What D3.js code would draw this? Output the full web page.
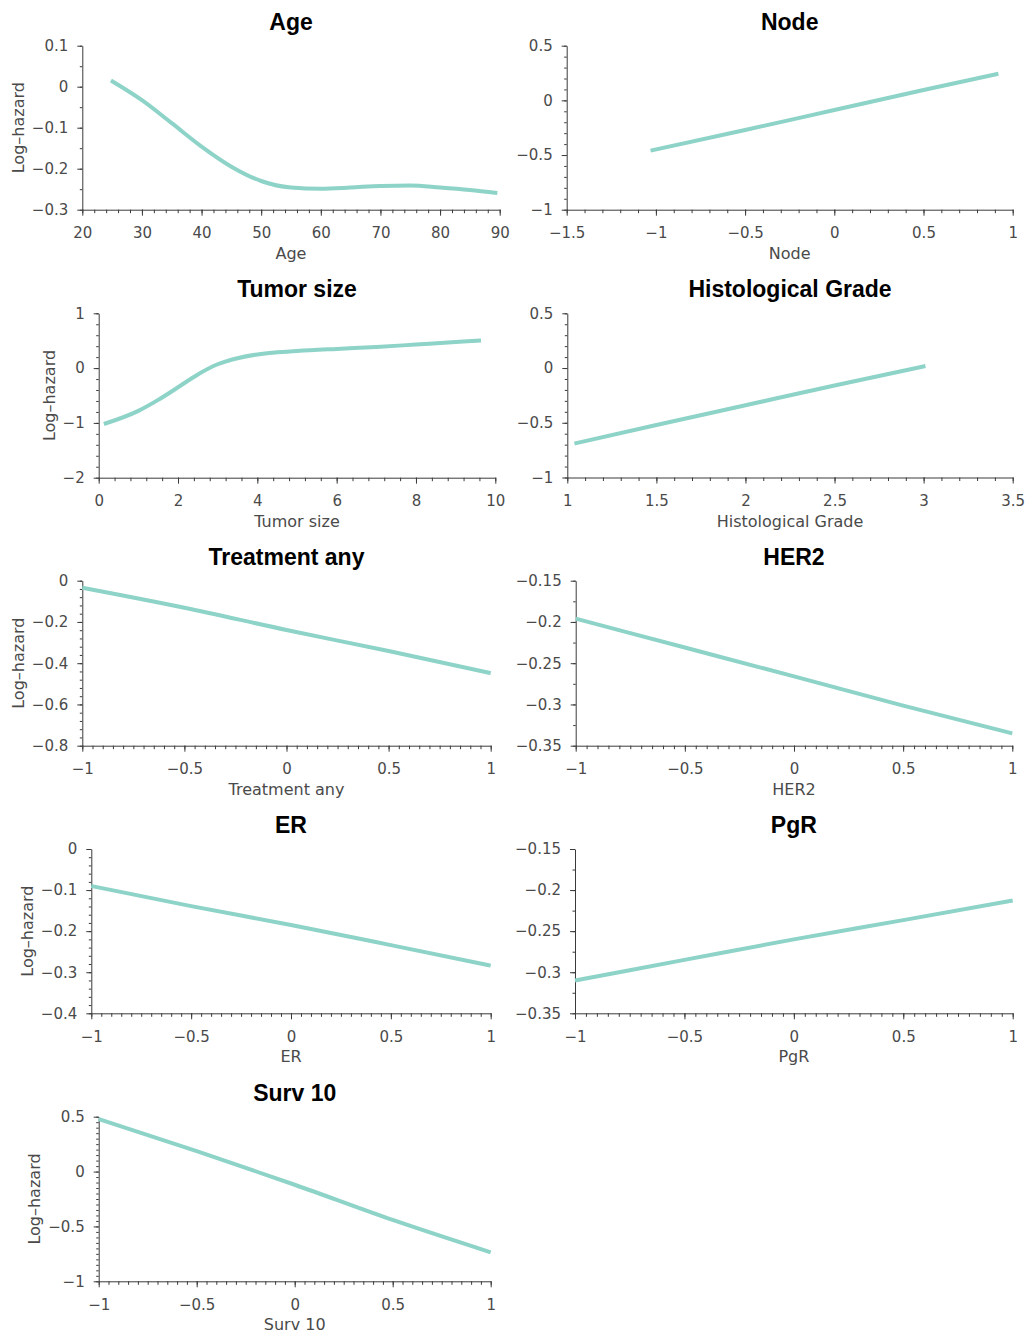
<!DOCTYPE html>
<html>
<head>
<meta charset="utf-8">
<script src="https://cdn.jsdelivr.net/npm/d3@7"></script>
<style>
  html, body { margin: 0; padding: 0; background: #fff; }
  svg { display: block; }
</style>
</head>
<body>
<svg id="chart" width="1029" height="1337"></svg>
<script>
// Estimated partial effects (log-hazard) of each covariate

const ageX = [24.8, 30, 35, 40, 45, 50, 55, 60, 65, 70, 75, 80, 85, 89.6];
const ageY = [0.015, -0.033, -0.089, -0.146, -0.195, -0.230, -0.246, -0.249, -0.246, -0.242, -0.241, -0.246, -0.252, -0.259];

const nodeX = [-1.03, -0.5, 0, 0.5, 0.92];
const nodeY = [-0.46, -0.271, -0.088, 0.095, 0.244];

const tumorX = [0.13, 1, 1.5, 2, 2.5, 3, 3.5, 4, 5, 6, 7, 8, 9, 9.64];
const tumorY = [-1.02, -0.78, -0.58, -0.35, -0.115, 0.07, 0.18, 0.25, 0.31, 0.35, 0.385, 0.43, 0.475, 0.505];

const gradeX = [1.04, 1.5, 2, 2.5, 3.01];
const gradeY = [-0.69, -0.52, -0.34, -0.16, 0.018];

const treatX = [-1, -0.5, 0, 0.5, 1];
const treatY = [-0.034, -0.131, -0.239, -0.341, -0.448];

const her2X = [-1, -0.5, 0, 0.5, 1];
const her2Y = [-0.196, -0.231, -0.266, -0.3015, -0.335];

const erX = [-1, -0.5, 0, 0.5, 1];
const erY = [-0.090, -0.139, -0.185, -0.234, -0.284];

const pgrX = [-1, -0.5, 0, 0.5, 1];
const pgrY = [-0.310, -0.285, -0.260, -0.2366, -0.2126];

const survX = [-1, -0.5, 0, 0.5, 1];
const survY = [0.479, 0.187, -0.12, -0.441, -0.736];

// Tick labels (major) and minor tick spacing for each panel
const ageXTicks = [20, 30, 40, 50, 60, 70, 80, 90];
const ageYTicks = [-0.3, -0.2, -0.1, 0, 0.1];
const nodeXTicks = [-1.5, -1, -0.5, 0, 0.5, 1];
const nodeYTicks = [-1, -0.5, 0, 0.5];
const tumorXTicks = [0, 2, 4, 6, 8, 10];
const tumorYTicks = [-2, -1, 0, 1];
const gradeXTicks = [1, 1.5, 2, 2.5, 3, 3.5];
const gradeYTicks = [-1, -0.5, 0, 0.5];
const unitXTicks = [-1, -0.5, 0, 0.5, 1];
const treatYTicks = [-0.8, -0.6, -0.4, -0.2, 0];
const her2YTicks = [-0.35, -0.3, -0.25, -0.2, -0.15];
const erYTicks = [-0.4, -0.3, -0.2, -0.1, 0];
const pgrYTicks = [-0.35, -0.3, -0.25, -0.2, -0.15];
const survYTicks = [-1, -0.5, 0, 0.5];

const titles = ["Age", "Node", "Tumor size", "Histological Grade", "Treatment any", "HER2", "ER", "PgR", "Surv 10"];
const yLabel = "Log–hazard";

const panels = [
  { title: titles[0], x: ageX,   y: ageY,   xt: ageXTicks,   yt: ageYTicks,   xm: 2,    ym: 0.05,  ylab: true },
  { title: titles[1], x: nodeX,  y: nodeY,  xt: nodeXTicks,  yt: nodeYTicks,  xm: 0.1,  ym: 0.1,   ylab: false },
  { title: titles[2], x: tumorX, y: tumorY, xt: tumorXTicks, yt: tumorYTicks, xm: 0.4,  ym: 0.2,   ylab: true },
  { title: titles[3], x: gradeX, y: gradeY, xt: gradeXTicks, yt: gradeYTicks, xm: 0.1,  ym: 0.1,   ylab: false },
  { title: titles[4], x: treatX, y: treatY, xt: unitXTicks,  yt: treatYTicks, xm: 0.05, ym: 0.04,  ylab: true },
  { title: titles[5], x: her2X,  y: her2Y,  xt: unitXTicks,  yt: her2YTicks,  xm: 0.05, ym: 0.025, ylab: false },
  { title: titles[6], x: erX,    y: erY,    xt: unitXTicks,  yt: erYTicks,    xm: 0.05, ym: 0.02,  ylab: true },
  { title: titles[7], x: pgrX,   y: pgrY,   xt: unitXTicks,  yt: pgrYTicks,   xm: 0.05, ym: 0.025, ylab: false },
  { title: titles[8], x: survX,  y: survY,  xt: unitXTicks,  yt: survYTicks,  xm: 0.05, ym: 0.05,  ylab: true }
];

// Plot-area boxes for the 2-column grid
const boxes = [
  { left: 82.3,  right: 499.7,  top: 45.7,   bottom: 209.7 },
  { left: 566.7, right: 1012.7, top: 45.7,   bottom: 209.7 },
  { left: 98.7,  right: 495.3,  top: 313.3,  bottom: 477.7 },
  { left: 567.3, right: 1012.7, top: 313.3,  bottom: 477.5 },
  { left: 82.3,  right: 490.7,  top: 580.7,  bottom: 745.7 },
  { left: 575.7, right: 1012.3, top: 580.7,  bottom: 745.7 },
  { left: 91.3,  right: 490.7,  top: 849,    bottom: 1013.3 },
  { left: 575,   right: 1012.7, top: 849,    bottom: 1013.3 },
  { left: 98.7,  right: 490.7,  top: 1116.7, bottom: 1281.3 }
];

const LINE_COLOR = "#8dd3c7";
const AXIS_COLOR = "#3a3a3a";
const TEXT_COLOR = "#4a4a4a";
const LABEL_FONT = "'DejaVu Sans', sans-serif";
const TITLE_FONT = "'Liberation Sans', Arial, sans-serif";

const fmt = d3.format("~g");
const svg = d3.select("#chart");

function minorValues(ticks, step) {
  const lo = d3.min(ticks), hi = d3.max(ticks);
  const n = Math.round((hi - lo) / step);
  return d3.range(n + 1).map(i => +(lo + i * step).toFixed(6));
}

panels.forEach((p, i) => {
  const b = boxes[i];
  const xs = d3.scaleLinear().domain(d3.extent(p.xt)).range([b.left, b.right]);
  const ys = d3.scaleLinear().domain(d3.extent(p.yt)).range([b.bottom, b.top]);
  const g = svg.append("g");

  // minor ticks
  g.append("g")
    .attr("transform", `translate(0,${b.bottom})`)
    .call(d3.axisBottom(xs).tickValues(minorValues(p.xt, p.xm)).tickSize(3.5).tickSizeOuter(0).tickFormat(""))
    .call(a => a.select(".domain").remove());
  g.append("g")
    .attr("transform", `translate(${b.left},0)`)
    .call(d3.axisLeft(ys).tickValues(minorValues(p.yt, p.ym)).tickSize(2.5).tickSizeOuter(0).tickFormat(""))
    .call(a => a.select(".domain").remove());

  // major axes
  const xa = g.append("g")
    .attr("transform", `translate(0,${b.bottom})`)
    .call(d3.axisBottom(xs).tickValues(p.xt).tickSize(6).tickSizeOuter(0).tickPadding(12).tickFormat(fmt));
  const ya = g.append("g")
    .attr("transform", `translate(${b.left},0)`)
    .call(d3.axisLeft(ys).tickValues(p.yt).tickSize(5).tickSizeOuter(0).tickPadding(9).tickFormat(fmt));

  g.selectAll(".tick line").attr("stroke", AXIS_COLOR);
  g.selectAll(".domain").attr("stroke", AXIS_COLOR);
  [xa, ya].forEach(a => a.selectAll("text")
    .attr("fill", TEXT_COLOR)
    .style("font-family", LABEL_FONT)
    .style("font-size", "15px"));
  xa.selectAll("text").attr("dy", "0.71em");

  // curve
  const pts = p.x.map((v, k) => [v, p.y[k]]);
  g.append("path")
    .datum(pts)
    .attr("fill", "none")
    .attr("stroke", LINE_COLOR)
    .attr("stroke-width", 4)
    .attr("d", d3.line().x(d => xs(d[0])).y(d => ys(d[1])).curve(d3.curveMonotoneX));

  // title
  g.append("text")
    .attr("x", (b.left + b.right) / 2)
    .attr("y", b.top - 16)
    .attr("text-anchor", "middle")
    .attr("fill", "#000")
    .style("font-family", TITLE_FONT)
    .style("font-weight", "bold")
    .style("font-size", "23px")
    .text(p.title);

  // x label
  g.append("text")
    .attr("x", (b.left + b.right) / 2)
    .attr("y", b.bottom + 49)
    .attr("text-anchor", "middle")
    .attr("fill", TEXT_COLOR)
    .style("font-family", LABEL_FONT)
    .style("font-size", "16px")
    .text(p.title);

  // y label, placed just left of the widest tick label
  if (p.ylab) {
    let minX = Infinity;
    ya.selectAll("text").each(function () {
      const bb = this.getBBox();
      minX = Math.min(minX, b.left + bb.x);
    });
    const bx = minX - 8;
    const cy = (b.top + b.bottom) / 2;
    g.append("text")
      .attr("transform", `translate(${bx},${cy}) rotate(-90)`)
      .attr("text-anchor", "middle")
      .attr("fill", TEXT_COLOR)
      .style("font-family", LABEL_FONT)
      .style("font-size", "16px")
      .text(yLabel);
  }
});
</script>
</body>
</html>
